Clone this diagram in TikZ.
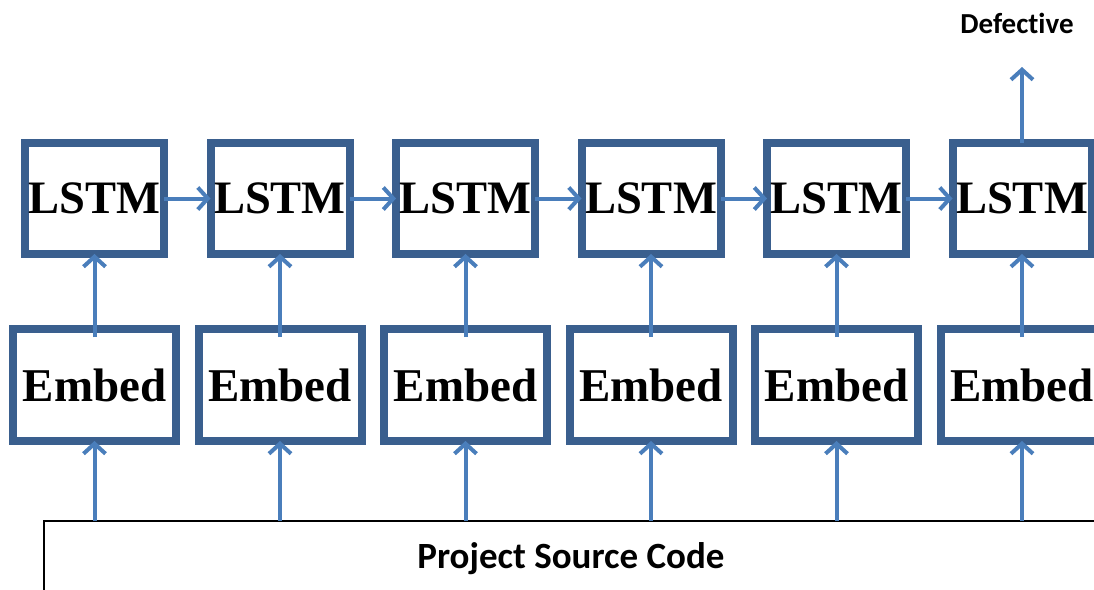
\documentclass[tikz,border=0pt]{standalone}
\usepackage{fontspec}
\setmainfont{Liberation Serif}
\newfontfamily\labelfont[Ligatures={NoCommon}]{Carlito}
\usetikzlibrary{arrows.meta,calc}

\definecolor{boxblue}{HTML}{3A5F8E}
\definecolor{linkblue}{HTML}{4A7EBB}

\tikzset{
  cell/.style={draw=boxblue, line width=8pt, fill=white, inner sep=0pt, outer sep=0pt},
  lstm/.style={cell, minimum width=139pt, minimum height=111pt,
    font=\fontsize{46.5}{46.5}\selectfont\bfseries},
  embed/.style={cell, minimum width=163pt, minimum height=112pt,
    font=\fontsize{47}{47}\selectfont\bfseries},
  link/.style={draw=linkblue, line width=4pt,
    -{Straight Barb[length=10pt,width=22pt]}},
  srcbox/.style={draw=black, line width=2pt, inner sep=0pt, outer sep=0pt,
    font=\labelfont\fontsize{37}{37}\selectfont\bfseries},
}

\begin{document}
\begin{tikzpicture}[x=1pt,y=-1pt]
  \useasboundingbox (0,0) rectangle (1094,589);
  \clip (0,0) rectangle (1094,589);

  % source code block along the bottom
  \node[srcbox, minimum width=1054pt, minimum height=76pt] (src) at (571,559)
    {Project Source Code};

  % one LSTM cell and one embedding per token
  \foreach \i in {1,...,6} {
    \pgfmathsetmacro{\cx}{94.5+185.5*(\i-1)}
    \node[lstm]  (l\i) at (\cx,198.5) {LSTM};
    \node[embed] (e\i) at (\cx,385)   {Embed};
  }

  % tokens feed embeddings, embeddings feed the LSTM cells
  \foreach \i in {1,...,6} {
    \draw[link] (e\i.south |- src.north) -- (e\i.south);
    \draw[link, shorten <=-8pt] (e\i.north) -- (l\i.south);
  }

  % recurrent links between consecutive cells
  \foreach \i/\j in {1/2,2/3,3/4,4/5,5/6}
    \draw[link] (l\i.east) -- (l\j.west);

  % final output
  \coordinate (out) at (1022,67);
  \draw[link] (l6.north) -- (out);
  \node[font=\labelfont\fontsize{29}{29}\selectfont\bfseries] (def) at (1017,23) {Defective};
\end{tikzpicture}
\end{document}
